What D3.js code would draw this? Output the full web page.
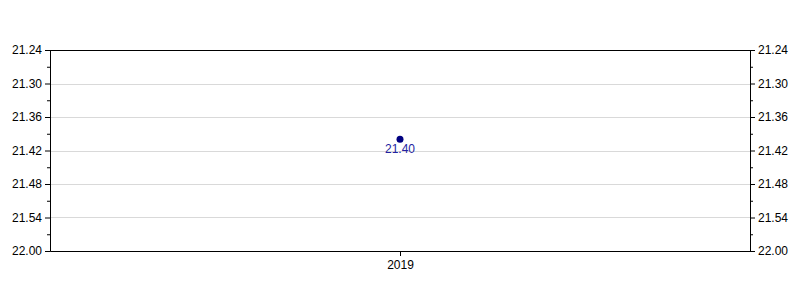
<!DOCTYPE html>
<html>
<head>
<meta charset="utf-8">
<script src="https://cdn.jsdelivr.net/npm/d3@7"></script>
<style>
  body { margin: 0; background: #fff; }
  text { font-family: "Liberation Sans", Arial, sans-serif; font-size: 12px; }
</style>
</head>
<body>
<script>
"use strict";

// Chart data
var categories = ["2019"];
var values = [21.40];
var tickValues = [21.24, 21.30, 21.36, 21.42, 21.48, 21.54, 21.60];
var tickLabels = ["21.24", "21.30", "21.36", "21.42", "21.48", "21.54", "22.00"];

var width = 800, height = 300;
var margin = {top: 50, right: 50, bottom: 49, left: 50};
var w = width - margin.left - margin.right;
var h = height - margin.top - margin.bottom;

var svg = d3.select("body").append("svg")
    .attr("width", width)
    .attr("height", height);
var g = svg.append("g").attr("transform", "translate(" + margin.left + "," + margin.top + ")");

// y is inverted: smaller values at top
var y = d3.scaleLinear().domain([21.24, 21.60]).range([0, h]);
var x = d3.scalePoint().domain(categories).range([0, w]).padding(0.5);

// gridlines
g.append("g").selectAll("line")
    .data(tickValues.slice(1, -1))
    .enter().append("line")
    .attr("x1", 0).attr("x2", w)
    .attr("y1", function(d) { return Math.round(y(d)) + 0.5; })
    .attr("y2", function(d) { return Math.round(y(d)) + 0.5; })
    .attr("stroke", "#d9d9d9");

// minor ticks
var minor = [];
for (var i = 0; i < tickValues.length - 1; i++) minor.push((tickValues[i] + tickValues[i + 1]) / 2);

function fmt(d) { return tickLabels[tickValues.indexOf(d)]; }

g.append("g").call(d3.axisLeft(y).tickValues(tickValues).tickFormat(fmt).tickSize(5).tickPadding(3));
g.append("g").attr("transform", "translate(" + w + ",0)")
    .call(d3.axisRight(y).tickValues(tickValues).tickFormat(fmt).tickSize(5).tickPadding(3));
g.append("g").call(d3.axisLeft(y).tickValues(minor).tickFormat("").tickSize(3)).select(".domain").remove();
g.append("g").attr("transform", "translate(" + w + ",0)")
    .call(d3.axisRight(y).tickValues(minor).tickFormat("").tickSize(3)).select(".domain").remove();

g.append("g").attr("transform", "translate(0," + h + ")")
    .call(d3.axisBottom(x).tickSize(5).tickPadding(4).tickSizeOuter(0));

// top frame line
g.append("line").attr("x1", 0).attr("x2", w).attr("y1", 0.5).attr("y2", 0.5).attr("stroke", "#000");

svg.selectAll(".tick text").attr("fill", "#000").style("font-family", "Liberation Sans, Arial, sans-serif").style("font-size", "12px");
svg.selectAll(".domain").attr("stroke", "#000");
svg.selectAll(".tick line").attr("stroke", "#000");

// point + label
var pts = g.append("g").selectAll("g")
    .data(values)
    .enter().append("g");
pts.append("circle")
    .attr("cx", function(d, i) { return x(categories[i]); })
    .attr("cy", function(d) { return y(d); })
    .attr("r", 3.5)
    .attr("fill", "#000080");
pts.append("text")
    .attr("x", function(d, i) { return x(categories[i]); })
    .attr("y", function(d) { return y(d) + 14; })
    .attr("text-anchor", "middle")
    .attr("fill", "#2222a0")
    .text(function(d) { return d.toFixed(2); });
</script>
</body>
</html>
